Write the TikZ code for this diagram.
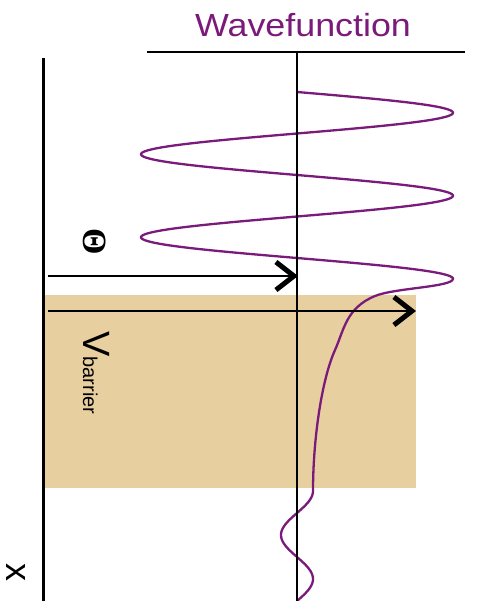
\documentclass[tikz,border=0pt]{standalone}
\usepackage{fontspec}
\setmainfont{Liberation Sans}
\newfontfamily\thetafont{Liberation Serif}
\usetikzlibrary{arrows.meta}
\definecolor{wavepurple}{RGB}{122,26,122}
\definecolor{barriertan}{RGB}{231,207,160}

\begin{document}
\begin{tikzpicture}[
    x=1pt, y=-1pt,
    axis/.style={line width=2pt},
    arr/.style={-{Straight Barb[length=18pt,width=28pt,line width=5pt]}, line width=2.5pt},
    lbl/.style={inner sep=0pt, rotate=-90},
    wave/.style={wavepurple, line width=2.3pt}
  ]
  \useasboundingbox (0,0) rectangle (477,601);

  % barrier region
  \fill[barriertan] (43,295) rectangle (416,488);

  % wavefunction
  \draw[wave] plot[domain=92:278.75, samples=220] ({297+156*sin((\x-92)/41.5*180)}, \x)
    .. controls (453,287) and (394,288) .. (375,296)
    .. controls (346,308) and (344,330) .. (335,350)
    .. controls (321.5,380) and (313,440) .. (313,491)
    -- plot[domain=491:601, samples=60] ({297+16*cos((\x-491)/44*180)}, \x);

  \coordinate (wallTop) at (43,58);
  \coordinate (wallBot) at (43,601);
  \coordinate (axisTop) at (297,52);
  \coordinate (axisBot) at (297,601);
  \coordinate (baseL) at (147,52);
  \coordinate (baseR) at (465,52);
  \coordinate (eStart) at (48,276);
  \coordinate (eEnd) at (298,276);
  \coordinate (vStart) at (48,311);
  \coordinate (vEnd) at (416,311);

  \draw[line width=3pt] (wallTop) -- (wallBot);
  \draw[axis] (axisTop) -- (axisBot);
  \draw[axis] (baseL) -- (baseR);
  \draw[arr] (eStart) -- (eEnd);
  \draw[arr] (vStart) -- (vEnd);

  \node[wavepurple, inner sep=0pt, anchor=base, xscale=1.12,
        font=\fontsize{32}{32}\selectfont] (title) at (303,37) {Wavefunction};
  \node[lbl, font=\thetafont\bfseries\fontsize{34}{34}\selectfont] (energy) at (95,242) {Θ};
  \node[lbl, anchor=base west] (barrier) at (83,331)
    {{\fontsize{38}{38}\selectfont V}{\fontsize{20}{20}\selectfont barrier}};
  \node[lbl, font=\fontsize{36}{36}\selectfont] (xlabel) at (16,572) {x};
\end{tikzpicture}
\end{document}
